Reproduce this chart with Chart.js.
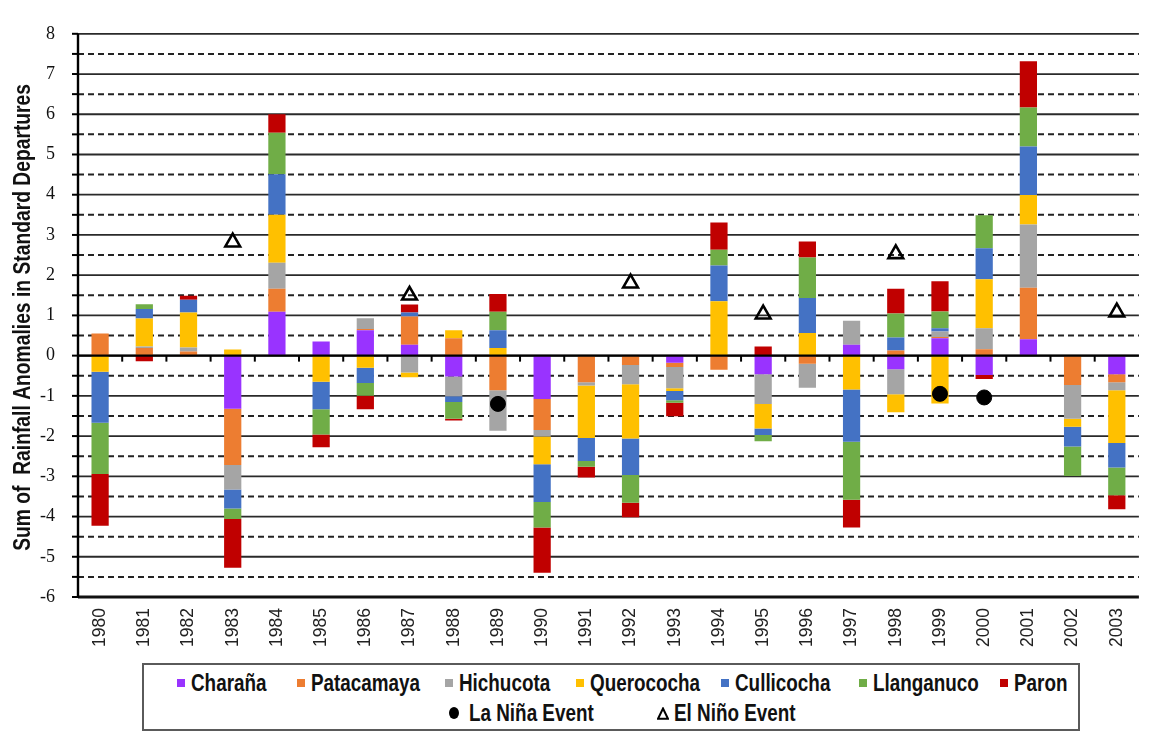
<!DOCTYPE html>
<html>
<head>
<meta charset="utf-8">
<script src="https://cdn.jsdelivr.net/npm/chart.js@4.4.1/dist/chart.umd.min.js"></script>
<style>
  html, body { margin: 0; padding: 0; background: #fff; }
  #wrap { position: relative; width: 1150px; height: 732px; overflow: hidden; }
  #chart { position: absolute; left: 0; top: 0; }
  #legend {
    position: absolute; left: 142px; top: 663px; width: 934px; height: 64px;
    border: 2px solid #5a5a5a; background: #fff;
    font-family: "Liberation Sans", Arial, sans-serif;
    font-weight: bold; font-size: 23px; color: #111;
  }
  .item { position: absolute; height: 26px; display: flex; align-items: center; white-space: nowrap; }
  .sq { width: 8px; height: 8px; margin-right: 6px; flex: none; }
  .dot { width: 10px; height: 12px; border-radius: 50%; background: #000; margin-right: 10px; flex: none; }
  .txt { display: inline-block; transform: scaleX(0.82); transform-origin: 0 50%; }
</style>
</head>
<body>
<div id="wrap">
  <canvas id="chart" width="1150" height="732"></canvas>
  <div id="legend"></div>
</div>
<script>
// Years on the category axis
const years = ['1980','1981','1982','1983','1984','1985','1986','1987','1988','1989','1990','1991',
               '1992','1993','1994','1995','1996','1997','1998','1999','2000','2001','2002','2003'];

// Rainfall anomalies (standard departures) per station
const charana    = [0, 0, 0, -1.32, 1.09, 0.35, 0.63, 0.27, -0.52, 0, -1.08, 0,
                    0, -0.18, 0, -0.46, 0, 0.27, -0.34, 0.43, -0.48, 0.41, 0, -0.46];
const patacamaya = [0.55, 0.19, 0.10, -1.40, 0.57, 0, 0.03, 0.70, 0.43, -0.86, -0.77, -0.66,
                    -0.23, -0.10, -0.35, 0, -0.20, 0, 0.13, 0.03, 0.16, 1.28, -0.73, -0.20];
const hichucota  = [0, 0.04, 0.10, -0.61, 0.65, 0, 0.27, -0.42, -0.49, -1.01, -0.16, -0.08,
                    -0.48, -0.53, 0, -0.74, -0.60, 0.60, -0.62, 0.14, 0.52, 1.57, -0.84, -0.20];
const querococha = [-0.40, 0.69, 0.87, 0.15, 1.19, -0.65, -0.30, -0.12, 0.20, 0.19, -0.69, -1.31,
                    -1.35, -0.07, 1.35, -0.61, 0.56, -0.84, -0.45, -1.19, 1.22, 0.73, -0.20, -1.31];
const cullicocha = [-1.27, 0.24, 0.32, -0.47, 1.01, -0.68, -0.38, 0.10, -0.14, 0.44, -0.94, -0.57,
                    -0.91, -0.23, 0.89, -0.16, 0.87, -1.30, 0.32, 0.08, 0.77, 1.21, -0.49, -0.61];
const llanganuco = [-1.27, 0.12, 0, -0.26, 1.03, -0.63, -0.32, 0, -0.42, 0.46, -0.63, -0.14,
                    -0.69, -0.06, 0.39, -0.16, 1.01, -1.44, 0.60, 0.42, 0.82, 0.97, -0.73, -0.69];
const paron      = [-1.29, -0.14, 0.10, -1.21, 0.46, -0.32, -0.33, 0.20, -0.04, 0.44, -1.13, -0.27,
                    -0.36, -0.34, 0.68, 0.23, 0.40, -0.69, 0.61, 0.75, -0.10, 1.15, 0, -0.35];

// ENSO event markers
const laNina = [null, null, null, null, null, null, null, null, null, -1.20, null, null,
                null, null, null, null, null, null, null, -0.95, -1.04, null, null, null];
const elNino = [null, null, null, 2.82, null, null, null, 1.50, null, null, null, null,
                1.80, null, null, 1.03, null, null, 2.53, null, null, null, null, 1.08];

// Value axis range and title
const yMin = -6;
const yMax = 8;
const yTitle = 'Sum of  Rainfall Anomalies in Standard Departures';

const stations = [
  { name: 'Charaña',    values: charana,    color: '#9933FF' },
  { name: 'Patacamaya', values: patacamaya, color: '#ED7D31' },
  { name: 'Hichucota',  values: hichucota,  color: '#A5A5A5' },
  { name: 'Querococha', values: querococha, color: '#FFC000' },
  { name: 'Cullicocha', values: cullicocha, color: '#4472C4' },
  { name: 'Llanganuco', values: llanganuco, color: '#70AD47' },
  { name: 'Paron',      values: paron,      color: '#C00000' }
];

// Gridlines, axis lines, tick marks and the condensed axis title
const frame = {
  id: 'frame',
  beforeDatasetsDraw(chart) {
    const { ctx, chartArea: a, scales: { y } } = chart;
    ctx.save();
    for (let v = yMin; v <= yMax; v += 0.5) {
      const py = y.getPixelForValue(v);
      ctx.beginPath();
      if (Number.isInteger(v)) {
        ctx.setLineDash([]);
        ctx.strokeStyle = v === yMin ? '#111' : '#2a2a2a';
        ctx.lineWidth = v === yMin ? 2.8 : 1.8;
      } else {
        ctx.setLineDash([6, 4]);
        ctx.strokeStyle = '#222';
        ctx.lineWidth = 2;
      }
      ctx.moveTo(a.left, py);
      ctx.lineTo(a.right, py);
      ctx.stroke();
    }
    ctx.restore();
  },
  afterDatasetsDraw(chart) {
    const { ctx, chartArea: a, scales: { x, y } } = chart;
    ctx.save();
    ctx.setLineDash([]);
    ctx.strokeStyle = '#000';
    // zero line with category separators
    const y0 = y.getPixelForValue(0);
    ctx.lineWidth = 2.4;
    ctx.beginPath();
    ctx.moveTo(a.left, y0);
    ctx.lineTo(a.right, y0);
    ctx.stroke();
    ctx.lineWidth = 2;
    for (let i = 0; i < years.length - 1; i++) {
      const bx = (x.getPixelForTick(i) + x.getPixelForTick(i + 1)) / 2;
      ctx.beginPath();
      ctx.moveTo(bx, y0);
      ctx.lineTo(bx, y0 + 6);
      ctx.stroke();
    }
    // value axis line and its ticks
    ctx.lineWidth = 2.4;
    ctx.beginPath();
    ctx.moveTo(a.left, a.top);
    ctx.lineTo(a.left, a.bottom + 1);
    ctx.stroke();
    ctx.lineWidth = 2;
    for (let v = yMin; v <= yMax; v += 0.5) {
      const py = y.getPixelForValue(v);
      ctx.beginPath();
      ctx.moveTo(a.left - 6, py);
      ctx.lineTo(a.left, py);
      ctx.stroke();
    }
    ctx.restore();
  },
  afterDraw(chart) {
    const { ctx, chartArea: a } = chart;
    ctx.save();
    ctx.translate(24, (a.top + a.bottom) / 2 + 2);
    ctx.rotate(-Math.PI / 2);
    ctx.scale(0.82, 1);
    ctx.font = 'bold 23.5px "Liberation Sans", Arial, sans-serif';
    ctx.fillStyle = '#111';
    ctx.textAlign = 'center';
    ctx.textBaseline = 'middle';
    ctx.fillText(yTitle, 0, 0);
    ctx.restore();
  }
};

const datasets = [
  {
    type: 'line', label: 'La Niña Event', data: laNina, stack: 'nina', order: 0,
    showLine: false, pointStyle: 'circle', pointRadius: 7.5,
    pointBackgroundColor: '#000', pointBorderColor: '#000', pointBorderWidth: 1
  },
  {
    type: 'line', label: 'El Niño Event', data: elNino, stack: 'nino', order: 0,
    showLine: false, pointStyle: 'triangle', pointRadius: 8.5,
    pointBackgroundColor: 'rgba(255,255,255,0)', pointBorderColor: '#000', pointBorderWidth: 2.6
  }
].concat(stations.map(s => ({
  type: 'bar', label: s.name, data: s.values, stack: 'rain', order: 1,
  backgroundColor: s.color, borderWidth: 0,
  barPercentage: 0.39, categoryPercentage: 1
})));

new Chart(document.getElementById('chart'), {
  type: 'bar',
  data: { labels: years, datasets },
  options: {
    responsive: false,
    animation: false,
    layout: { padding: { top: 12, right: 0, bottom: 0, left: 0 } },
    plugins: { legend: { display: false }, tooltip: { enabled: false } },
    scales: {
      x: {
        stacked: true,
        grid: { display: false, drawTicks: false },
        border: { display: false },
        ticks: {
          autoSkip: false, minRotation: 90, maxRotation: 90, padding: 11,
          color: '#222', font: { family: '"Liberation Sans", Arial, sans-serif', size: 17.5 }
        },
        afterFit(scale) { scale.height = 135; }
      },
      y: {
        stacked: true, min: yMin, max: yMax,
        grid: { display: false, drawTicks: false },
        border: { display: false },
        ticks: {
          stepSize: 1, padding: 23, color: '#111',
          font: { family: '"Liberation Serif", "Times New Roman", serif', size: 18 }
        },
        title: { display: false },
        afterFit(scale) { scale.width = 78; }
      }
    }
  },
  plugins: [frame]
});

// Legend below the plot
const legend = document.getElementById('legend');
const ox = 144, oy = 665;
const rowItems = [
  { left: 177, text: 'Charaña',    color: '#9933FF' },
  { left: 297, text: 'Patacamaya', color: '#ED7D31' },
  { left: 445, text: 'Hichucota',  color: '#A5A5A5' },
  { left: 576, text: 'Querococha', color: '#FFC000' },
  { left: 721, text: 'Cullicocha', color: '#4472C4' },
  { left: 859, text: 'Llanganuco', color: '#70AD47' },
  { left: 1000, text: 'Paron',     color: '#C00000' }
];
function addText(parent, str) {
  const t = document.createElement('span');
  t.className = 'txt';
  t.textContent = str;
  parent.appendChild(t);
}
rowItems.forEach(it => {
  const d = document.createElement('div');
  d.className = 'item';
  d.style.left = (it.left - ox) + 'px';
  d.style.top = (683 - 13 - oy) + 'px';
  const sq = document.createElement('span');
  sq.className = 'sq';
  sq.style.background = it.color;
  d.appendChild(sq);
  addText(d, it.text);
  legend.appendChild(d);
});
(function () {
  const d = document.createElement('div');
  d.className = 'item';
  d.style.left = (449 - ox) + 'px';
  d.style.top = (713 - 13 - oy) + 'px';
  const m = document.createElement('span');
  m.className = 'dot';
  d.appendChild(m);
  addText(d, 'La Niña Event');
  legend.appendChild(d);

  const e = document.createElement('div');
  e.className = 'item';
  e.style.left = (657 - ox) + 'px';
  e.style.top = (713 - 13 - oy) + 'px';
  const svgNS = 'http://www.w3.org/2000/svg';
  const svg = document.createElementNS(svgNS, 'svg');
  svg.setAttribute('width', '12'); svg.setAttribute('height', '13');
  svg.style.marginRight = '5px';
  svg.style.flex = 'none';
  const p = document.createElementNS(svgNS, 'polygon');
  p.setAttribute('points', '6,1.5 11,11.8 1,11.8');
  p.setAttribute('fill', 'none'); p.setAttribute('stroke', '#000'); p.setAttribute('stroke-width', '2');
  svg.appendChild(p);
  e.appendChild(svg);
  addText(e, 'El Niño Event');
  legend.appendChild(e);
})();
</script>
</body>
</html>
